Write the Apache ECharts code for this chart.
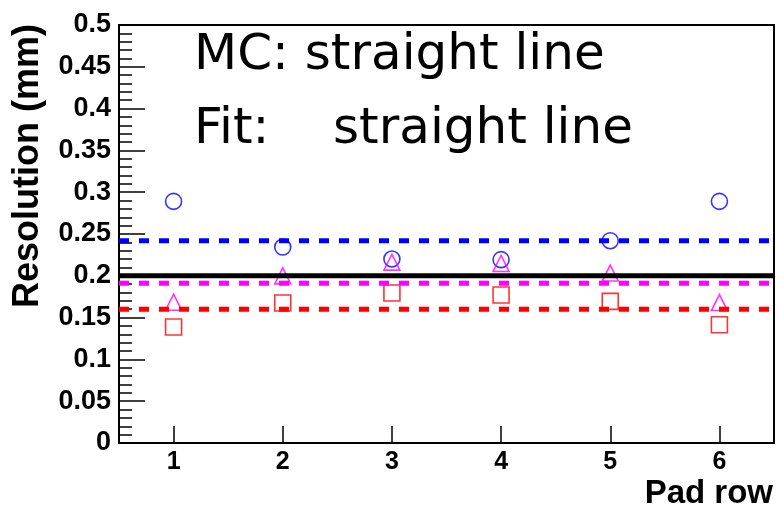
<!DOCTYPE html>
<html>
<head>
<meta charset="utf-8">
<script src="https://cdn.jsdelivr.net/npm/echarts@6/dist/echarts.min.js"></script>
<style>
  html, body { margin: 0; padding: 0; background: #fff; }
  #chart { width: 777px; height: 515px; }
</style>
</head>
<body>
<div id="chart"></div>
<script>
// Pad rows and measured resolutions (mm)
const padRows = [1, 2, 3, 4, 5, 6];
const resCircle = [0.289, 0.2344, 0.2201, 0.2193, 0.242, 0.289];
const resTriangle = [0.1684, 0.1999, 0.2163, 0.2148, 0.2033, 0.168];
const resSquare = [0.1388, 0.1675, 0.1794, 0.177, 0.1694, 0.1415];

// Straight-line fit levels (mm)
const fitBlack = 0.2;
const fitBlue = 0.242;
const fitMagenta = 0.191;
const fitRed = 0.16;

const xRange = [0.5, 6.5];
const yTicks = [0, 0.05, 0.1, 0.15, 0.2, 0.25, 0.3, 0.35, 0.4, 0.45, 0.5];

const pts = (ys) => padRows.map((x, i) => [x, ys[i]]);
const flat = (y) => [[xRange[0], y], [xRange[1], y]];

const labelFont = { fontFamily: 'Liberation Sans, Arial, sans-serif', fontWeight: 'bold', color: '#000' };

const markerSeries = (name, ys, symbol, size, color) => ({
  name, type: 'scatter', data: pts(ys), symbol, symbolSize: size, z: 2,
  itemStyle: { color: 'rgba(0,0,0,0)', borderColor: color, borderWidth: 1.6 }
});

const fitSeries = (name, y, color, dashed) => ({
  name, type: 'line', data: flat(y), showSymbol: false, symbol: 'none', z: 3,
  silent: true, animation: false,
  lineStyle: { color, width: 5, type: dashed ? [10, 10] : 'solid' }
});

const chart = echarts.init(document.getElementById('chart'), null, { renderer: 'canvas' });
chart.setOption({
  animation: false,
  backgroundColor: '#fff',
  grid: { left: 119, right: 3, top: 25, bottom: 72, show: true, borderColor: '#000', borderWidth: 2, backgroundColor: 'transparent' },
  xAxis: {
    type: 'value', min: xRange[0], max: xRange[1],
    axisLine: { show: true, onZero: false, lineStyle: { color: '#000', width: 2 } },
    axisTick: { show: true, inside: true, length: 17, customValues: padRows, lineStyle: { color: '#000', width: 1.5 } },
    axisLabel: Object.assign({ customValues: padRows, margin: 7, fontSize: 25 }, labelFont),
    splitLine: { show: false }
  },
  yAxis: {
    type: 'value', min: yTicks[0], max: yTicks[yTicks.length - 1], interval: 0.05,
    axisLine: { show: true, lineStyle: { color: '#000', width: 2 } },
    axisTick: { show: true, inside: true, length: 26, lineStyle: { color: '#000', width: 1.5 } },
    minorTick: { show: true, splitNumber: 5, length: 13, lineStyle: { color: '#000', width: 1.5 } },
    axisLabel: Object.assign({ margin: 8, fontSize: 27, formatter: (v) => String(Math.round(v * 100) / 100) }, labelFont),
    splitLine: { show: false }
  },
  series: [
    markerSeries('circle', resCircle, 'circle', 16, '#0000ff'),
    markerSeries('triangle', resTriangle, 'triangle', 16, '#ff00ff'),
    markerSeries('square', resSquare, 'rect', 16, '#ff0000'),
    fitSeries('fitBlue', fitBlue, '#0000ff', true),
    fitSeries('fitBlack', fitBlack, '#000000', false),
    fitSeries('fitMagenta', fitMagenta, '#ff00ff', true),
    fitSeries('fitRed', fitRed, '#ff0000', true)
  ],
  graphic: [
    {
      type: 'text', x: 28, y: 24, rotation: Math.PI / 2, z: 10,
      style: { text: 'Resolution (mm)', fill: '#000', font: 'bold 36px "Liberation Sans", Arial, sans-serif', align: 'right', verticalAlign: 'middle' }
    },
    {
      type: 'text', x: 773, y: 510, z: 10,
      style: { text: 'Pad row', fill: '#000', font: 'bold 33px "Liberation Sans", Arial, sans-serif', align: 'right', verticalAlign: 'bottom' }
    },
    {
      type: 'text', x: 194, y: 56, z: 10,
      style: { text: 'MC: straight line', fill: '#000', font: '50px "DejaVu Sans", sans-serif', align: 'left', verticalAlign: 'middle' }
    },
    {
      type: 'text', x: 194, y: 130, z: 10,
      style: { text: 'Fit:    straight line', fill: '#000', font: '50px "DejaVu Sans", sans-serif', align: 'left', verticalAlign: 'middle' }
    }
  ]
});
</script>
</body>
</html>
